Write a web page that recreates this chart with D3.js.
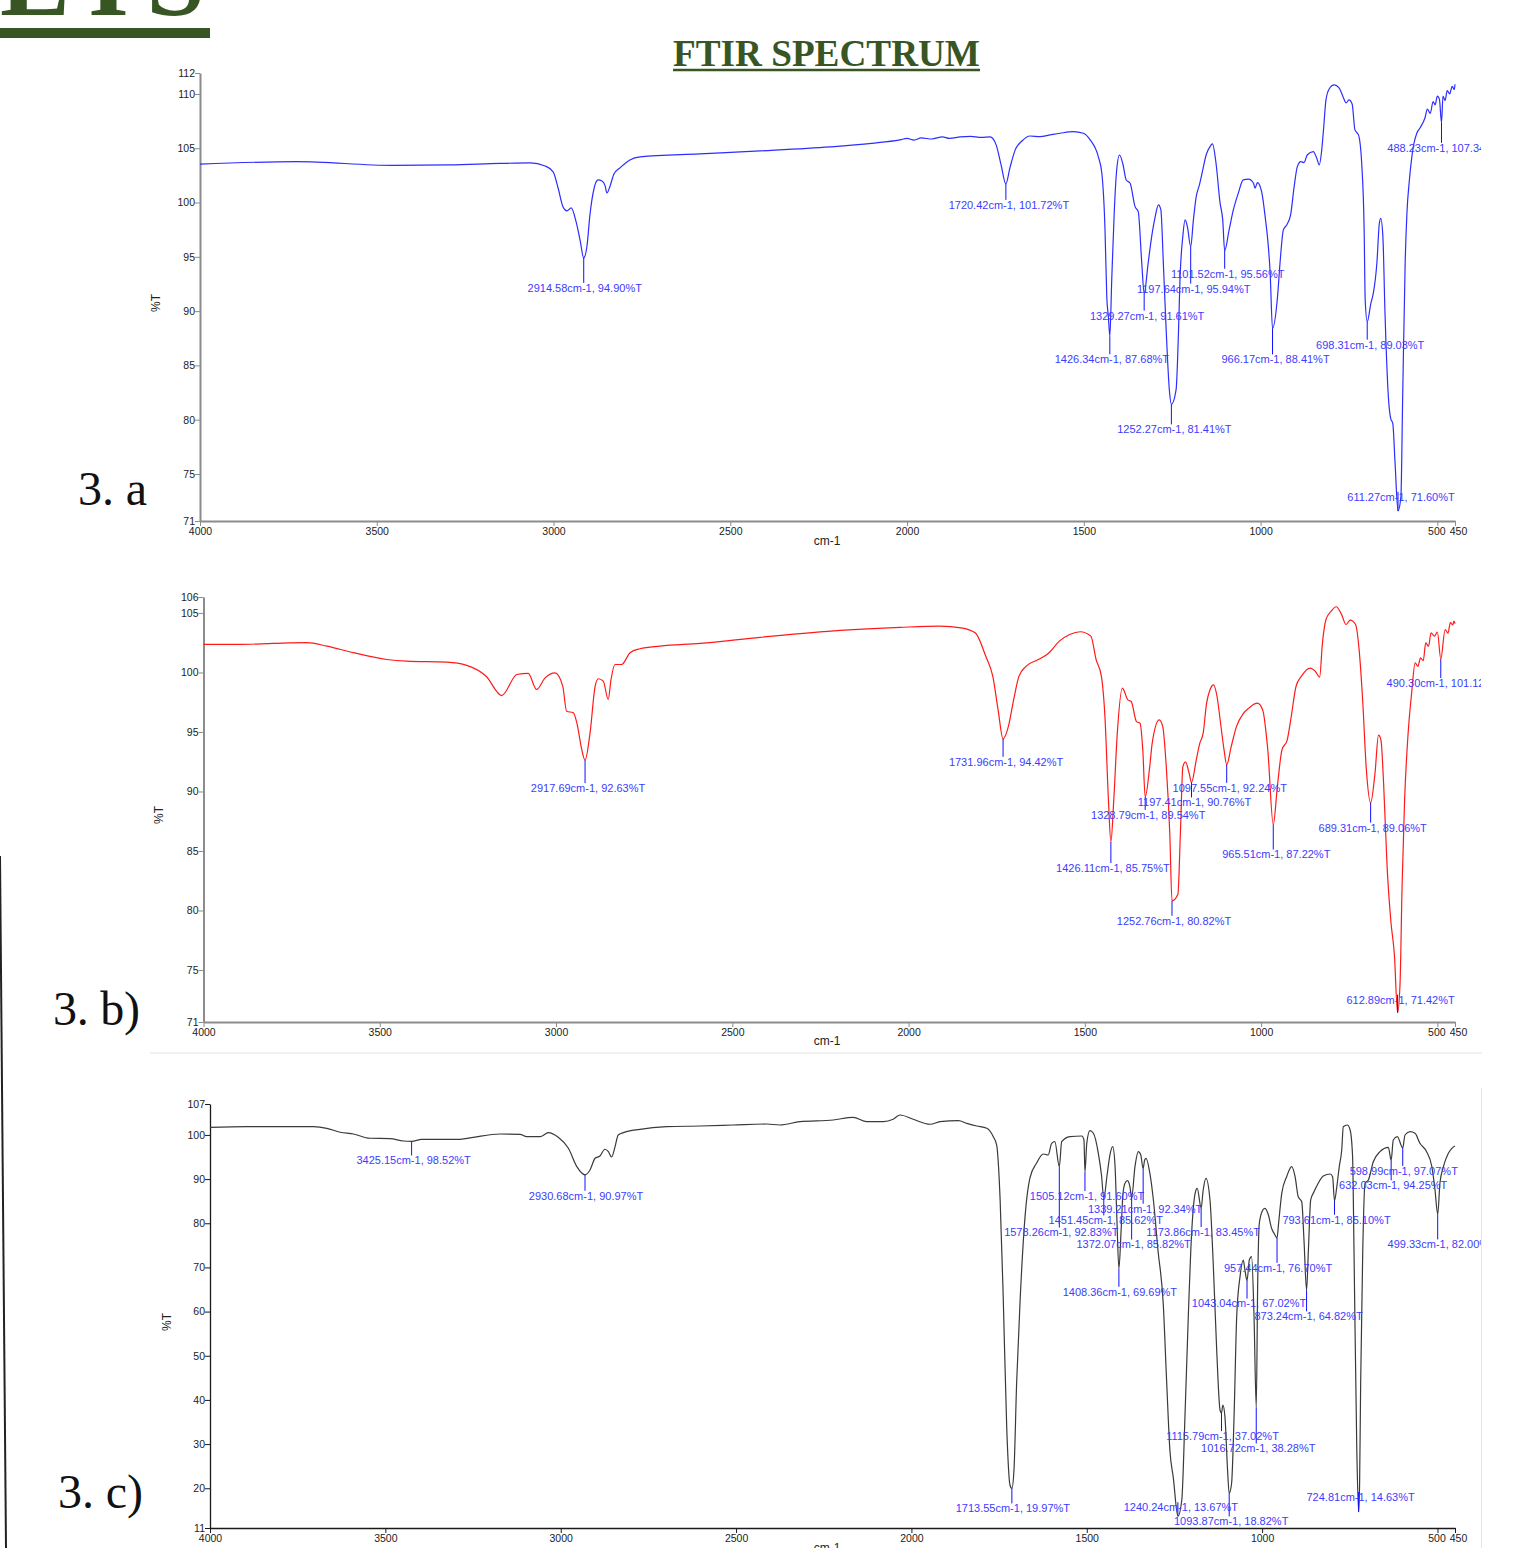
<!DOCTYPE html>
<html>
<head>
<meta charset="utf-8">
<script src="https://cdn.jsdelivr.net/npm/d3@7"></script>
<style>
  body { margin: 0; background: #fff; }
  svg text { font-family: "Liberation Sans", Arial, sans-serif; }
</style>
</head>
<body>
<script>
// ---- data: [wavenumber cm-1, %T] ----
var specA = [[4000,103.53],[3726,103.77],[3454,103.42],[3293,103.46],[3151,103.60],[3066,103.65],[3024,103.37],[3001,102.82],[2987,101.34],[2973,99.59],[2962,99.23],[2950,99.50],[2936,98.21],[2925,96.56],[2914.58,94.90],[2905,96.09],[2897,98.86],[2885,101.34],[2874,102.08],[2863,101.99],[2854,101.53],[2849,100.88],[2840,101.53],[2829,102.63],[2812,103.19],[2784,103.92],[2755,104.20],[2586,104.48],[2416,104.75],[2218,105.12],[2100,105.45],[2020,105.77],[2000,105.9],[1980,105.75],[1960,105.95],[1930,105.85],[1900,106.05],[1880,105.9],[1850,106.04],[1820,106.1],[1790,106.0],[1765,106.04],[1748,105.31],[1734,103.46],[1720.42,101.72],[1709,103.19],[1694,104.85],[1675,105.67],[1652,106.13],[1624,106.07],[1595,106.23],[1567,106.38],[1530,106.53],[1501,106.38],[1482,105.77],[1459,104.23],[1449,102.70],[1440,97.48],[1435,91.33],[1430.5,89.49],[1426.34,87.68],[1421,92.87],[1414,99.04],[1407,103.0],[1399,104.38],[1390,103.62],[1380,102.08],[1369,101.78],[1355,99.62],[1346,99.16],[1336,94.41],[1329.27,91.61],[1318,94.41],[1308,96.86],[1298,98.70],[1289,99.78],[1282,99.32],[1275,94.41],[1267,88.27],[1258,82.74],[1252.27,81.41],[1239,82.74],[1232,88.27],[1228,92.87],[1220,96.86],[1213.5,98.40],[1207,97.78],[1197.64,95.94],[1190,98.40],[1182,100.54],[1173,101.62],[1163.5,103.0],[1154,104.38],[1143,105.15],[1136,105.40],[1126,103.62],[1114.5,99.94],[1107,98.40],[1101.52,95.56],[1089,97.48],[1077,99.32],[1063,100.86],[1049,102.08],[1034,102.15],[1020,101.78],[1015.5,101.32],[1009,101.83],[997,101.00],[987,98.70],[978,95.94],[973,93.61],[966.17,88.41],[952,91.33],[945,94.41],[935.5,97.48],[926,97.94],[915,98.86],[905,101.46],[896,103.31],[886,103.77],[877,103.68],[868,104.38],[851,104.69],[841,104.08],[834,103.46],[827,104.84],[822,106.69],[815,109.45],[806,110.46],[792,110.83],[778,110.56],[766.5,109.73],[758,109.17],[750,109.45],[741,109.08],[733,106.69],[723,106.23],[714,103.65],[707,97.48],[704,91.0],[698.31,89.03],[688,90.72],[681,91.65],[671,94.41],[664,98.09],[660,98.55],[654,96.86],[648,89.80],[638.5,82.12],[632,80.13],[626,79.67],[619.5,75.99],[611.27,71.60],[603,72.91],[598,82.12],[591,94.41],[586,99.01],[579,102.08],[572,104.23],[566,105.46],[558,106.38],[549,106.87],[535,107.79],[528,108.6],[520,108.2],[512,109.3],[506,109.0],[500,109.8],[494,109.5],[488.23,107.34],[484,109.8],[478,109.4],[472,110.3],[465,110.0],[458,110.7],[452,110.4],[450,110.9]];

var specB = [[4000,102.36],[3896,102.36],[3802,102.44],[3707,102.50],[3650,102.21],[3575,101.66],[3480,101.09],[3424,100.95],[3310,100.87],[3253,100.59],[3197,99.64],[3154,98.06],[3111,99.83],[3079,99.92],[3055,98.57],[3031,99.55],[3003,99.97],[2981,98.85],[2970,96.74],[2951,96.61],[2941,95.77],[2927,93.52],[2917.69,92.63],[2903.5,94.92],[2889,98.85],[2880,99.47],[2866,99.27],[2852,97.73],[2844,99.41],[2833,100.67],[2814,100.67],[2790,101.66],[2762,101.99],[2705,102.21],[2591.5,102.44],[2421,102.95],[2194,103.54],[2024,103.79],[1911,103.89],[1851,103.75],[1811,103.33],[1781,101.36],[1761,99.67],[1746,96.85],[1731.96,94.42],[1717,95.45],[1702,97.70],[1687,99.67],[1667,100.51],[1632,101.08],[1602,101.64],[1572.5,102.63],[1543,103.19],[1513,103.42],[1483,103.05],[1468,101.08],[1453,99.67],[1443,96.29],[1433,89.25],[1426.11,85.75],[1418,89.25],[1408,94.88],[1393.5,98.69],[1378,97.70],[1368.5,97.56],[1353.5,95.87],[1343.5,95.73],[1335.6,93.48],[1328.79,89.54],[1316,92.07],[1309,94.04],[1289,96.01],[1279,95.45],[1269,92.07],[1259,86.44],[1252.76,80.82],[1236,81.37],[1229,86.44],[1222,92.07],[1214.5,92.49],[1204,91.51],[1197.41,90.76],[1184,92.63],[1174,94.04],[1164.5,94.88],[1154.6,97.42],[1145,98.54],[1135,98.96],[1125,97.98],[1115,95.73],[1105,93.48],[1097.55,92.24],[1085,93.75],[1070,95.45],[1050,96.57],[1035,97.0],[1010.5,97.42],[995.5,96.85],[981,93.48],[965.51,87.22],[954,90.38],[941,93.48],[926,94.32],[916,96.01],[901,98.82],[886,99.67],[861,100.37],[846,100.09],[834,99.61],[826,102.48],[816,104.45],[801,105.16],[787,105.52],[772,104.88],[759,104.03],[747,104.40],[732,104.03],[722,101.92],[712,97.70],[702,92.07],[689.31,89.06],[677,91.51],[667,94.74],[660,94.32],[652.5,90.66],[642.5,83.62],[632,79.12],[622,76.30],[612.89,71.42],[606,73.77],[600,82.21],[593,89.25],[583,94.88],[573,98.27],[563,100.80],[555,100.5],[548,101.22],[540,101.0],[533,102.48],[525,102.2],[518,103.33],[508,103.05],[500,103.4],[490.30,101.12],[478,103.61],[470,103.3],[463,104.18],[456,104.0],[453,104.32],[450,104.1]];

var specC = [[4000,101.73],[3895,101.86],[3705,101.86],[3667,101.50],[3629,100.60],[3591,100.21],[3544,99.24],[3487,99.15],[3449,98.62],[3425.15,98.52],[3396,99.01],[3344,99.01],[3287,99.01],[3249,99.46],[3173,100.21],[3116,100.14],[3097,99.60],[3059,99.60],[3035,100.51],[3007,99.46],[2978,96.97],[2954,92.81],[2930.68,90.97],[2916.5,92.06],[2902,94.71],[2888,95.23],[2874,96.75],[2864,96.20],[2855,95.0],[2845,97.34],[2836,99.98],[2821.5,100.51],[2774,101.27],[2698,101.86],[2603,102.02],[2508,102.25],[2413,102.47],[2375,102.25],[2318,102.99],[2223,103.38],[2166,103.99],[2127.5,102.99],[2080,102.99],[2052,103.54],[2032.5,104.51],[1995,103.54],[1947,102.41],[1918.5,102.99],[1866,103.22],[1842,102.63],[1814,102.02],[1785,101.50],[1766.5,99.60],[1757,97.72],[1747,85.27],[1738,62.62],[1728,33.19],[1719,20.74],[1713.55,19.97],[1707.5,24.13],[1700,43.76],[1690,62.62],[1676,81.49],[1662,90.25],[1643,93.64],[1624,95.68],[1610,95.45],[1600,98.10],[1591,98.47],[1578.26,92.83],[1571.5,98.47],[1548,99.60],[1514,99.76],[1508,98.85],[1505.12,91.60],[1500,98.10],[1491,100.96],[1481,100.37],[1467,95.84],[1458,90.93],[1451.45,85.62],[1442,90.93],[1434,95.45],[1426,97.33],[1419.5,93.19],[1414,80.74],[1408.36,69.69],[1402,78.47],[1397,86.40],[1391,89.05],[1384,89.64],[1377,88.28],[1372.07,85.82],[1362.5,92.81],[1353,96.20],[1346,95.45],[1339.21,92.34],[1335,94.32],[1331,94.71],[1320,91.31],[1310,85.27],[1297,73.94],[1282,61.88],[1272,43.76],[1263,28.66],[1253,22.25],[1240.24,13.67],[1229,17.34],[1220,36.20],[1210.5,58.84],[1201,77.73],[1191,86.78],[1185,87.91],[1173.86,83.45],[1168,87.53],[1160,90.18],[1148.6,85.27],[1139,70.16],[1129.5,51.30],[1120,37.72],[1115.79,37.02],[1112,38.85],[1106,36.20],[1099,24.88],[1093.87,18.82],[1087,21.12],[1080,36.20],[1072.5,58.84],[1063,67.90],[1053.6,71.68],[1049,69.42],[1043.04,67.02],[1036.5,71.68],[1030,72.43],[1023,58.84],[1016.72,38.28],[1012.6,66.40],[1008,79.99],[998,83.0],[992,83.39],[982,81.87],[973,78.86],[966,77.73],[957.44,76.70],[953,79.99],[944,86.78],[930,90.54],[915.6,92.81],[906,90.54],[897,86.01],[887,84.88],[880.6,76.21],[873.24,64.82],[868,73.94],[861.5,85.27],[852,87.14],[840,89.05],[825.5,90.70],[806,91.15],[799,90.54],[793.61,85.10],[787,88.28],[780,92.81],[773,96.59],[768.5,101.86],[757,102.25],[749,101.12],[742,95.07],[738,73.94],[730,28.66],[724.81,14.63],[722,21.12],[719,43.76],[713,73.94],[706.6,89.05],[697,89.79],[683,93.94],[664,96.20],[640,97.20],[632.03,94.25],[626,98.85],[614.5,99.60],[598.99,97.07],[592.6,99.98],[578,100.73],[564,100.37],[550,98.10],[531,96.20],[516,92.81],[507,87.53],[499.33,82.00],[493,89.05],[483,92.81],[469,95.84],[459,96.97],[450,97.49]];

// labelled peaks [cm-1, %T]
var peaksA = [[2914.58,94.90],[1720.42,101.72],[1426.34,87.68],[1329.27,91.61],[1252.27,81.41],[1197.64,95.94],[1101.52,95.56],[966.17,88.41],[698.31,89.03],[611.27,71.60],[488.23,107.34]];
var peaksB = [[2917.69,92.63],[1731.96,94.42],[1426.11,85.75],[1328.79,89.54],[1197.41,90.76],[1097.55,92.24],[1252.76,80.82],[965.51,87.22],[689.31,89.06],[612.89,71.42],[490.30,101.12]];
var peaksC = [[3425.15,98.52],[2930.68,90.97],[1713.55,19.97],[1578.26,92.83],[1505.12,91.60],[1451.45,85.62],[1408.36,69.69],[1372.07,85.82],[1339.21,92.34],[1240.24,13.67],[1173.86,83.45],[1115.79,37.02],[1093.87,18.82],[1043.04,67.02],[1016.72,38.28],[957.44,76.70],[873.24,64.82],[793.61,85.10],[724.81,14.63],[632.03,94.25],[598.99,97.07],[499.33,82.00]];

// axes
var xTicks = [4000,3500,3000,2500,2000,1500,1000,500,450];
var yTicksA = [75,80,85,90,95,100,105,110];
var yTicksB = [75,80,85,90,95,100,105];
var yTicksC = [20,30,40,50,60,70,80,90,100];
var yDomainA = [70.67,111.93];
var yDomainB = [70.63,106.34];
var yDomainC = [11,107];
var panelNames = ["3. a","3. b)","3. c)"];

// label placement (px from the peak point), kept apart from the values
var labelShiftA = [[1,31],[3,22],[2,24],[3,23],[3,26],[3,43],[3,24],[3,32],[3,24],[3,-13],[3,26]];
var labelShiftB = [[3,29],[3,24],[2,27],[3,19],[3,21],[3,24],[2,21],[3,31],[2,26],[3,-12],[3,25]];
var labelShiftC = [[2,20],[1,22],[1,21],[2,67],[2,25],[2,23],[1,24],[2,48],[2,41],[3,-8],[2,25],[1,24],[2,29],[2,24],[2,42],[1,31],[2,27],[2,20],[2,-14],[2,26],[1,24],[4,31]];

var W = 1527, H = 1548;
var svg = d3.select("body").append("svg")
    .attr("width", W).attr("height", H);
svg.append("rect").attr("width", W).attr("height", H).attr("fill", "#fff");

svg.append("clipPath").attr("id", "pageclip")
  .append("rect").attr("x", 0).attr("y", 0).attr("width", 1481).attr("height", H);

// page decorations
var green = "#385623";
svg.append("text")
    .attr("x", 0).attr("y", 15)
    .style("font-family", "'Liberation Serif', serif")
    .attr("font-weight", "bold").attr("font-size", 105)
    .attr("textLength", 205).attr("lengthAdjust", "spacing")
    .attr("fill", green).text("EIS");
svg.append("rect").attr("x", 0).attr("y", 28).attr("width", 210).attr("height", 10).attr("fill", green);

svg.append("text")
    .attr("x", 826.5).attr("y", 66).attr("text-anchor", "middle")
    .style("font-family", "'Liberation Serif', serif")
    .attr("font-weight", "bold").attr("font-size", 37)
    .attr("textLength", 307).attr("lengthAdjust", "spacingAndGlyphs")
    .attr("fill", green).text("FTIR SPECTRUM");
svg.append("line").attr("x1", 673).attr("x2", 980).attr("y1", 70).attr("y2", 70)
    .attr("stroke", green).attr("stroke-width", 2.5);

svg.append("line").attr("x1", 0).attr("y1", 856).attr("x2", 6).attr("y2", H)
    .attr("stroke", "#222").attr("stroke-width", 2);
svg.append("line").attr("x1", 150).attr("x2", 1482).attr("y1", 1053).attr("y2", 1053)
    .attr("stroke", "#e2e2e2").attr("stroke-width", 1);
svg.append("line").attr("x1", 1481.5).attr("x2", 1481.5).attr("y1", 1088).attr("y2", H)
    .attr("stroke", "#e6e6e6").attr("stroke-width", 1);

var panels = [
  {spec: specA, peaks: peaksA, shift: labelShiftA, yDomain: yDomainA, yTicks: yTicksA,
   left: 200, right: 1455, top: 73, bottom: 521, axisColor: "#8c8c8c", axisWidth: 2,
   lineColor: "#2d2dff", xLabelY: 545, yLabelX: 157, yLabelY: 303,
   nameX: 78, nameY: 505, nameW: 69},
  {spec: specB, peaks: peaksB, shift: labelShiftB, yDomain: yDomainB, yTicks: yTicksB,
   left: 203.5, right: 1455, top: 597, bottom: 1022, axisColor: "#8c8c8c", axisWidth: 2,
   lineColor: "#ff1a1a", xLabelY: 1045, yLabelX: 160, yLabelY: 815,
   nameX: 53, nameY: 1025, nameW: 87},
  {spec: specC, peaks: peaksC, shift: labelShiftC, yDomain: yDomainC, yTicks: yTicksC,
   left: 210, right: 1455, top: 1104, bottom: 1528, axisColor: "#1a1a1a", axisWidth: 1.3,
   lineColor: "#3a3a3a", xLabelY: 1552, yLabelX: 168, yLabelY: 1322,
   nameX: 58, nameY: 1508, nameW: 85}
];

var fmt2 = d3.format(".2f");
var fmt0 = d3.format(".0f");

panels.forEach(function(p, i){
    var x = d3.scaleLinear().domain([4000, 450]).range([p.left, p.right]);
    var y = d3.scaleLinear().domain(p.yDomain).range([p.bottom, p.top]);

    var g = svg.append("g");

    //axes
    var xAxis = d3.axisBottom(x).tickValues(xTicks).tickSize(5).tickSizeOuter(0).tickFormat(fmt0);
    var yAxis = d3.axisLeft(y)
        .tickValues([p.yDomain[0]].concat(p.yTicks, [p.yDomain[1]]))
        .tickSize(5).tickSizeOuter(0).tickFormat(fmt0);

    var gx = g.append("g").attr("transform", "translate(0," + p.bottom + ")").call(xAxis);
    var gy = g.append("g").attr("transform", "translate(" + p.left + ",0)").call(yAxis);
    [gx, gy].forEach(function(a){
        a.select(".domain").attr("stroke", p.axisColor).attr("stroke-width", p.axisWidth);
        a.selectAll(".tick line").attr("stroke", p.axisColor).attr("stroke-width", 1);
        a.selectAll(".tick text").attr("fill", "#222").attr("font-size", 10.5)
            .style("font-family", "'Liberation Sans', Arial, sans-serif");
    });
    gx.selectAll(".tick text").attr("dy", "0.6em")
        .attr("dx", function(d){ return d === 450 ? 3 : (d === 500 ? -1 : 0); });
    gy.selectAll(".tick text").attr("x", -5);

    g.append("text").attr("x", 827).attr("y", p.xLabelY)
        .attr("text-anchor", "middle").attr("font-size", 12).attr("fill", "#222")
        .text("cm-1");
    g.append("text")
        .attr("transform", "translate(" + p.yLabelX + "," + p.yLabelY + ") rotate(-90)")
        .attr("text-anchor", "middle").attr("dominant-baseline", "middle")
        .attr("font-size", 12).attr("fill", "#222").text("%T");

    //spectrum
    var line = d3.line()
        .x(function(d){ return x(d[0]); })
        .y(function(d){ return y(d[1]); })
        .curve(d3.curveMonotoneX);
    g.append("path").datum(p.spec)
        .attr("d", line)
        .attr("fill", "none")
        .attr("stroke", p.lineColor)
        .attr("stroke-width", 1.2)
        .attr("stroke-linejoin", "round");

    //peak annotations
    var ann = g.append("g").attr("clip-path", "url(#pageclip)");
    p.peaks.forEach(function(pk, j){
        var px = x(pk[0]), py = y(pk[1]);
        var s = p.shift[j];
        ann.append("line")
            .attr("x1", px).attr("x2", px)
            .attr("y1", py).attr("y2", py + s[1] - 6)
            .attr("stroke", "#1010ff").attr("stroke-width", 1);
        ann.append("text")
            .attr("x", px + s[0]).attr("y", py + s[1])
            .attr("text-anchor", "middle").attr("dominant-baseline", "middle")
            .attr("font-size", 11).attr("fill", "#3c3cff")
            .text(fmt2(pk[0]) + "cm-1, " + fmt2(pk[1]) + "%T");
    });

    //panel name
    svg.append("text")
        .attr("x", p.nameX).attr("y", p.nameY)
        .style("font-family", "'Liberation Serif', serif")
        .attr("font-size", 48).attr("fill", "#111")
        .attr("textLength", p.nameW).attr("lengthAdjust", "spacing")
        .text(panelNames[i]);
});
</script>
</body>
</html>
